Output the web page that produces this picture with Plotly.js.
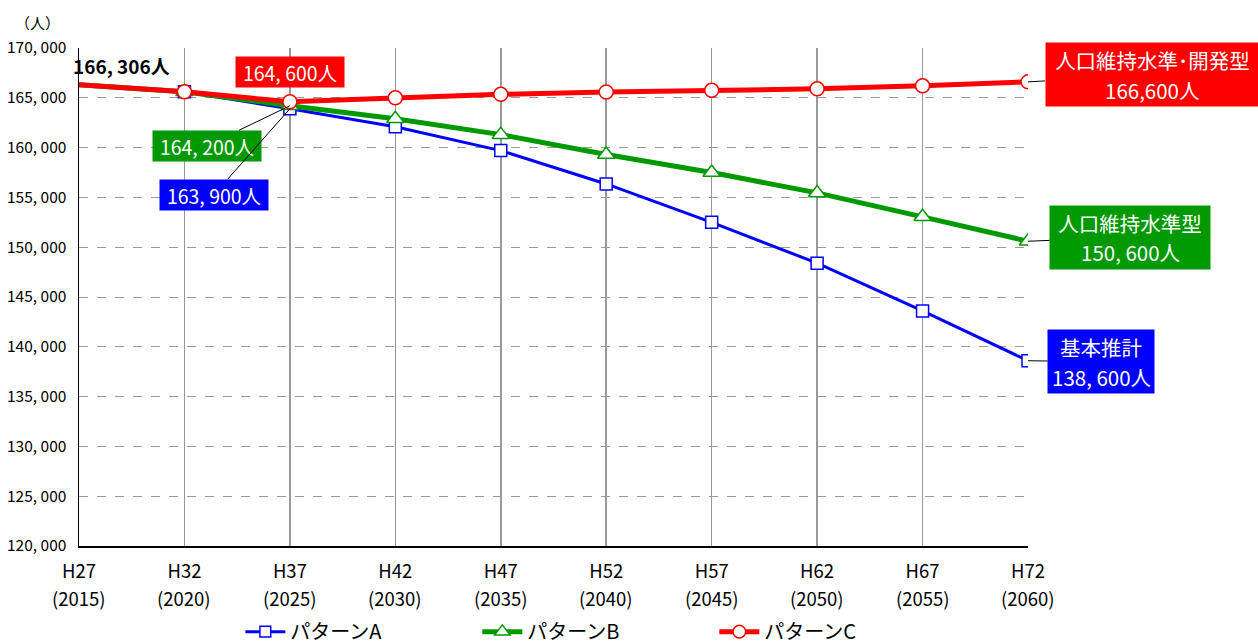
<!DOCTYPE html>
<html><head><meta charset="utf-8">
<script src="https://cdn.plot.ly/plotly-3.0.1.min.js"></script>
<style>body{margin:0;padding:0;background:#fff}#chart{width:1258px;height:644px}</style>
</head><body><div id="chart"></div>
<script>
var years = [2015, 2020, 2025, 2030, 2035, 2040, 2045, 2050, 2055, 2060];
var eraLabels = ['H27','H32','H37','H42','H47','H52','H57','H62','H67','H72'];
var yearLabels = ['(2015)','(2020)','(2025)','(2030)','(2035)','(2040)','(2045)','(2050)','(2055)','(2060)'];
var patternA = [166306, 165600, 163900, 162100, 159700, 156350, 152500, 148400, 143600, 138600];
var patternB = [166306, 165600, 164200, 162900, 161300, 159300, 157500, 155450, 153050, 150600];
var patternC = [166306, 165600, 164600, 165000, 165350, 165580, 165750, 165900, 166200, 166600];
var yTickVals = [120000,125000,130000,135000,140000,145000,150000,155000,160000,165000,170000];
var yTickText = ['120, 000','125, 000','130, 000','135, 000','140, 000','145, 000','150, 000','155, 000','160, 000','165, 000','170, 000'];
var seriesNames = ['パターンA','パターンB','パターンC'];
var endTitles = ['基本推計', '人口維持水準型', '人口維持水準･開発型'];
var endValues = ['138, 600人', '150, 600人', '166,600人'];

var FONT = '"Noto Sans CJK JP", "Noto Sans", sans-serif';
// no marker on the starting (actual) value
function sizes(sz) { return years.map(function (y, i) { return i === 0 ? 0 : sz; }); }
var traces = [
  {x: years, y: patternA, name: seriesNames[0], type: 'scatter', mode: 'lines+markers',
   line: {color: '#0000FF', width: 3},
   marker: {symbol: 'square', size: sizes(12), opacity: 1, color: '#FFFFFF', line: {color: '#0000FF', width: 1.5}}},
  {x: years, y: patternB, name: seriesNames[1], type: 'scatter', mode: 'lines+markers',
   line: {color: '#009900', width: 5},
   marker: {symbol: 'triangle-up', size: sizes(15), opacity: 1, color: '#FFFFFF', line: {color: '#009900', width: 1.5}}},
  {x: years, y: patternC, name: seriesNames[2], type: 'scatter', mode: 'lines+markers',
   line: {color: '#FF0000', width: 5},
   marker: {symbol: 'circle', size: sizes(14), opacity: 1, color: '#FFFFFF', line: {color: '#FF0000', width: 1.5}}}
];

var annotations = [
  {xref: 'paper', yref: 'paper', x: -0.044, y: 1.052, xanchor: 'center', yanchor: 'middle',
   text: '（人）', showarrow: false, font: {size: 15, color: '#000'}},
  {x: years[0], y: patternA[0], text: '<b>166, 306人</b>', showarrow: false, xanchor: 'left',
   xshift: -8, yshift: 19, font: {size: 19, color: '#000'}},
  {x: years[2], y: patternC[2], text: '164, 600人', showarrow: false, yshift: 30,
   bgcolor: '#FF0000', width: 106, height: 28, font: {size: 19.5, color: '#FFF'}},
  {x: years[2], y: patternB[2], text: '164, 200人', showarrow: true, arrowhead: 0, arrowwidth: 1,
   arrowcolor: '#000', ax: -83, ay: 40, bgcolor: '#009900', width: 106, height: 28,
   font: {size: 19.5, color: '#FFF'}},
  {x: years[2], y: patternA[2], text: '163, 900人', showarrow: true, arrowhead: 0, arrowwidth: 1,
   arrowcolor: '#000', ax: -76, ay: 86, bgcolor: '#0000FF', width: 106, height: 28,
   font: {size: 19.5, color: '#FFF'}}
];

var endSeries = [patternA, patternB, patternC];
var endColors = ['#0000FF', '#009900', '#FF0000'];
var endBox = [{ax: 73, ay: 1, w: 102}, {ax: 102, ay: -4, w: 156}, {ax: 124, ay: -7, w: 209}];
endSeries.forEach(function (s, i) {
  var last = s.length - 1;
  annotations.push({x: years[last], y: s[last], text: endTitles[i], showarrow: true, arrowhead: 0,
    arrowwidth: 1, arrowcolor: '#000', ax: endBox[i].ax, ay: endBox[i].ay, bgcolor: endColors[i],
    width: endBox[i].w, height: 59, valign: 'top', borderpad: 2, font: {size: 20.5, color: '#FFF'}});
  annotations.push({x: years[last], y: s[last], text: endValues[i], showarrow: false,
    xanchor: 'center', yanchor: 'middle', xshift: endBox[i].ax, yshift: -endBox[i].ay - 15,
    font: {size: 20.5, color: '#FFF'}});
});

years.forEach(function (yr, i) {
  annotations.push({x: yr, xref: 'x', yref: 'paper', y: -0.105, xanchor: 'center', yanchor: 'middle',
    text: yearLabels[i], showarrow: false, font: {size: 18.5, color: '#000'}});
});

var layout = {
  width: 1258, height: 644,
  margin: {l: 79, r: 230, t: 48, b: 98, autoexpand: false},
  paper_bgcolor: '#FFFFFF', plot_bgcolor: '#FFFFFF',
  font: {family: FONT, size: 15, color: '#000'},
  showlegend: true,
  legend: {orientation: 'h', x: 0.17, y: -0.172, xanchor: 'left', yanchor: 'middle',
           font: {size: 20, color: '#000'}, entrywidth: 182, entrywidthmode: 'pixels',
           itemwidth: 40, bgcolor: 'rgba(0,0,0,0)'},
  xaxis: {range: [2015, 2060], tickvals: years, ticktext: eraLabels, showgrid: true,
          gridcolor: '#999999', gridwidth: 1.5, showline: true, linecolor: '#000', linewidth: 1.5,
          zeroline: false, ticks: '', tickfont: {size: 18.5}, ticklabelstandoff: 8,
          automargin: false, fixedrange: true},
  yaxis: {range: [120000, 170000], tickvals: yTickVals, ticktext: yTickText, showgrid: true,
          gridcolor: '#999999', griddash: 'dash', gridwidth: 1, showline: true, linecolor: '#000',
          linewidth: 1.5, zeroline: false, ticks: '', tickfont: {size: 15.5}, ticklabelstandoff: 8,
          automargin: false, fixedrange: true},
  annotations: annotations
};

Plotly.newPlot('chart', traces, layout, {displayModeBar: false, staticPlot: true});
</script>
</body></html>
